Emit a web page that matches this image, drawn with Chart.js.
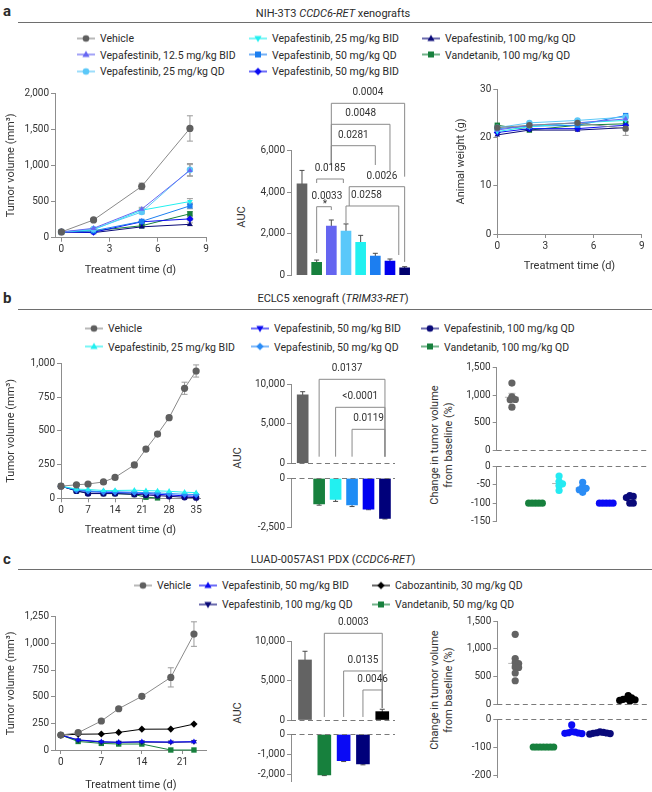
<!DOCTYPE html>
<html><head><meta charset="utf-8">
<script src="https://cdn.jsdelivr.net/npm/chart.js@4.4.1/dist/chart.umd.min.js"></script>
<style>
html,body{margin:0;padding:0}
body{width:652px;height:792px;position:relative;overflow:hidden;background:#fff;font-family:Roboto,"Liberation Sans",sans-serif;color:#2b2b2b}
canvas{position:absolute}
.t{position:absolute;white-space:nowrap}
.plab{font-weight:700;font-size:15px;transform:translateY(-50%)}
.ptitle{font-size:11px;transform:translate(-50%,-50%)}
.rule{position:absolute;height:0;border-top:1.2px solid #6e6e6e}
.leg{position:absolute;display:flex;align-items:center;font-size:10.5px;white-space:nowrap;transform:translateY(-50%)}
.leg canvas{position:static;margin-right:5px}
.rot{position:absolute;font-size:11px;line-height:14px;text-align:center;white-space:nowrap;transform:translate(-50%,-50%) rotate(-90deg);color:#333}
</style></head><body>
<div class="t plab" style="left:3px;top:11px">a</div>
<div class="t ptitle" style="left:333px;top:13px">NIH-3T3 <i>CCDC6-RET</i> xenografts</div>
<div class="rule" style="left:18px;top:22px;width:634px"></div>
<div class="t plab" style="left:3px;top:298px">b</div>
<div class="t ptitle" style="left:333px;top:298px">ECLC5 xenograft (<i>TRIM33-RET</i>)</div>
<div class="rule" style="left:18px;top:309px;width:634px"></div>
<div class="t plab" style="left:3px;top:559px">c</div>
<div class="t ptitle" style="left:333px;top:559px">LUAD-0057AS1 PDX (<i>CCDC6-RET</i>)</div>
<div class="rule" style="left:18px;top:569px;width:634px"></div>
<div class="rot" style="left:242px;top:217px">AUC</div>
<div class="rot" style="left:238px;top:458px">AUC</div>
<div class="rot" style="left:442px;top:445px">Change in tumor volume<br>from baseline (%)</div>
<div class="rot" style="left:238px;top:713px">AUC</div>
<div class="rot" style="left:442px;top:690px">Change in tumor volume<br>from baseline (%)</div>
<script>
// ================= DATA =================
// ---- Panel a: NIH-3T3 CCDC6-RET xenografts ----
const aDays = [0, 2, 5, 8];
const aTimeTicks = [0, 3, 6, 9];
const aVolTicks = [0, 500, 1000, 1500, 2000];
const aVolVehicle = [80, 245, 710, 1510];
const aVolVehicleErr = [8, 20, 45, 175];
const aVolVepa12_5BID = [80, 130, 395, 930];
const aVolVepa12_5BIDErr = [5, 10, 25, 80];
const aVolVepa25QD = [80, 120, 355, 940];
const aVolVepa25QDErr = [5, 10, 25, 85];
const aVolVepa25BID = [80, 110, 380, 500];
const aVolVepa25BIDErr = [5, 10, 20, 40];
const aVolVepa50QD = [80, 95, 225, 440];
const aVolVepa50QDErr = [5, 8, 20, 40];
const aVolVepa50BID = [80, 75, 220, 260];
const aVolVepa50BIDErr = [5, 8, 15, 25];
const aVolVepa100QD = [80, 70, 150, 185];
const aVolVepa100QDErr = [5, 5, 10, 20];
const aVolVand100QD = [80, 95, 165, 330];
const aVolVand100QDErr = [5, 8, 15, 30];

const aAucGroups = ['Vehicle', 'Vandetanib, 100 mg/kg QD', 'Vepafestinib, 12.5 mg/kg BID', 'Vepafestinib, 25 mg/kg QD', 'Vepafestinib, 25 mg/kg BID', 'Vepafestinib, 50 mg/kg QD', 'Vepafestinib, 50 mg/kg BID', 'Vepafestinib, 100 mg/kg QD'];
const aAuc = [4400, 620, 2370, 2130, 1585, 925, 685, 360];
const aAucErr = [650, 110, 290, 340, 335, 130, 95, 50];
const aAucTicks = [0, 2000, 4000, 6000];
const aAucP = ['0.0004', '0.0048', '0.0281', '0.0185', '0.0033', '0.0026', '0.0258'];

const aWtTicks = [0, 10, 20, 30];
const aWtVehicle = [22.0, 22.5, 23.0, 21.8];
const aWtVehicleErr = [0.5, 0.5, 0.6, 1.4];
const aWtVepa12_5BID = [21.5, 22.5, 23.0, 23.8];
const aWtVepa25QD = [22.0, 23.0, 23.5, 24.2];
const aWtVepa25BID = [21.2, 22.2, 23.0, 23.5];
const aWtVepa50QD = [21.8, 22.3, 22.5, 24.5];
const aWtVepa50BID = [21.0, 21.8, 21.8, 22.5];
const aWtVepa100QD = [20.5, 21.5, 21.5, 22.0];
const aWtVand100QD = [22.5, 21.5, 22.5, 22.8];

// ---- Panel b: ECLC5 xenograft (TRIM33-RET) ----
const bDays = [0, 4, 7, 11, 14, 19, 22, 25, 28, 32, 35];
const bTimeTicks = [0, 7, 14, 21, 28, 35];
const bVolTicks = [0, 250, 500, 750, 1000];
const bVolVehicle = [90, 100, 106, 121, 155, 247, 365, 476, 597, 815, 943];
const bVolVehicleErr = [8, 8, 8, 10, 12, 15, 15, 15, 15, 45, 45];
const bVolVepa25BID = [90, 68, 65, 58, 58, 60, 57, 55, 52, 45, 42];
const bVolVepa50QD = [90, 62, 55, 48, 48, 45, 42, 40, 35, 30, 28];
const bVolVepa50BID = [90, 60, 50, 45, 42, 40, 35, 30, 25, 18, 15];
const bVolVepa100QD = [90, 55, 35, 35, 35, 30, 25, 20, 15, 8, 5];
const bVolVand100QD = [90, 55, 38, 35, 35, 28, 8, 3];

const bAucGroups = ['Vehicle', 'Vandetanib, 100 mg/kg QD', 'Vepafestinib, 25 mg/kg BID', 'Vepafestinib, 50 mg/kg QD', 'Vepafestinib, 50 mg/kg BID', 'Vepafestinib, 100 mg/kg QD'];
const bAuc = [8650, -1300, -1070, -1350, -1560, -2030];
const bAucErr = [380, 60, 100, 80, 30, 30];
const bAucTopTicks = [0, 5000, 10000];
const bAucBottomTicks = [0, -2500];
const bAucP = ['0.0137', '<0.0001', '0.0119'];

const bPctTopTicks = [0, 500, 1000, 1500];
const bPctBottomTicks = [0, -50, -100, -150];
const bPctVehicle = [1220, 970, 920, 915, 780];
const bPctVand100QD = [-100, -100, -100, -100, -100];
const bPctVepa25BID = [-27, -42, -48, -53, -66];
const bPctVepa50QD = [-44, -56, -60, -64, -71];
const bPctVepa50BID = [-100, -100, -100, -100, -100];
const bPctVepa100QD = [-80, -82, -85, -100, -100];

// ---- Panel c: LUAD-0057AS1 PDX (CCDC6-RET) ----
const cDays = [0, 3, 7, 10, 14, 19, 23];
const cTimeTicks = [0, 7, 14, 21];
const cVolTicks = [0, 250, 500, 750, 1000, 1250];
const cVolVehicle = [140, 162, 272, 387, 503, 681, 1087];
const cVolVehicleErr = [10, 10, 15, 15, 20, 90, 115];
const cVolVepa50BID = [140, 95, 78, 72, 78, 75, 78];
const cVolVepa50BIDErr = [8, 6, 6, 6, 8, 10, 12];
const cVolVepa100QD = [140, 92, 74, 72, 74, 72, 76];
const cVolCabo30QD = [140, 148, 150, 165, 195, 196, 243];
const cVolVand50QD = [140, 80, 62, 56, 56, 0, 0];

const cAucGroups = ['Vehicle', 'Vandetanib, 50 mg/kg QD', 'Vepafestinib, 50 mg/kg BID', 'Vepafestinib, 100 mg/kg QD', 'Cabozantinib, 30 mg/kg QD'];
const cAuc = [7600, -2000, -1300, -1460, 1060];
const cAucErr = [1100, 30, 40, 40, 300];
const cAucTopTicks = [0, 5000, 10000];
const cAucBottomTicks = [0, -1000, -2000];
const cAucP = ['0.0003', '0.0135', '0.0046'];

const cPctTopTicks = [0, 500, 1000, 1500];
const cPctBottomTicks = [0, -100, -200];
const cPctVehicle = [1260, 820, 750, 730, 670, 660, 560, 420];
const cPctVand50QD = [-100, -100, -100, -100, -100, -100, -100];
const cPctVepa50BID = [-21, -45, -47, -49, -50, -51, -52];
const cPctVepa100QD = [-46, -48, -49, -50, -51, -52, -54];
const cPctCabo30QD = [150, 110, 95, 85, 75, 65, 55];

// ================= STYLE =================
const AX = '#8d8d8d';
const C = {
  vehicle: '#5f5f5f', vehLine: '#8a8a8a', green: '#17803d', peri: '#6767f2', sky: '#5bc8f8',
  cyan: '#22f0f0', azure: '#1c7ff0', dodger: '#2a8cf7', blue: '#0b0bf2', navy: '#0a0a78', black: '#000000'
};
Chart.defaults.font.family = 'Roboto, "Liberation Sans", sans-serif';
Chart.defaults.font.size = 10;
Chart.defaults.color = '#333';

const fmt = v => Number(v).toLocaleString('en-US');
const ticksAt = vals => s => { s.ticks = vals.map(v => ({ value: v })); };
function axis(o) {
  return Object.assign({
    border: { color: AX, width: 1 },
    grid: { drawOnChartArea: false, color: AX, tickLength: 4, tickWidth: 1 },
    ticks: { color: '#333', font: { size: 10 }, padding: 2, callback: fmt, maxRotation: 0, autoSkip: false }
  }, o);
}
const hiddenX = (min, max) => ({ type: 'linear', display: false, offset: false, bounds: 'data', grid: { offset: false }, min, max });
const ttl = text => ({ display: true, text, font: { size: 11 }, color: '#333', padding: 0 });
const shapeMap = { circle: ['circle', 0], rect: ['rect', 0], diamond: ['rectRot', 0], triUp: ['triangle', 0], triDown: ['triangle', 180] };

// ================= PLUGINS =================
Chart.register({
  id: 'errbars',
  beforeDatasetsDraw(chart) {
    const ctx = chart.ctx, ys = chart.scales.y;
    chart.data.datasets.forEach((ds, di) => {
      if (!ds.errors) return;
      const meta = chart.getDatasetMeta(di);
      ctx.save(); ctx.strokeStyle = ds.errColor || '#999'; ctx.lineWidth = 1;
      meta.data.forEach((el, i) => {
        const e = ds.errors[i], p = ds.data[i];
        if (!e || !p || p.y == null) return;
        const y1 = ys.getPixelForValue(p.y + e), y2 = ys.getPixelForValue(p.y - e), x = el.x, cw = ds.cap || 3;
        ctx.beginPath(); ctx.moveTo(x, y1); ctx.lineTo(x, y2);
        ctx.moveTo(x - cw, y1); ctx.lineTo(x + cw, y1); ctx.moveTo(x - cw, y2); ctx.lineTo(x + cw, y2); ctx.stroke();
      });
      ctx.restore();
    });
  }
});
Chart.register({
  id: 'zeroline',
  afterDatasetsDraw(chart, args, opts) {
    if (!opts || !opts.show) return;
    const ctx = chart.ctx, a = chart.chartArea, y = Math.round(chart.scales.y.getPixelForValue(0)) + 0.5;
    ctx.save(); ctx.strokeStyle = '#7a7a7a'; ctx.lineWidth = 1.2; ctx.setLineDash([5, 3.5]);
    ctx.beginPath(); ctx.moveTo(a.left, y); ctx.lineTo(a.right, y); ctx.stroke(); ctx.restore();
  }
});
Chart.register({
  id: 'brackets',
  afterDraw(chart, args, opts) {
    if (!opts || !opts.items) return;
    const ctx = chart.ctx, xs = chart.scales.x, ys = chart.scales.y;
    ctx.save(); ctx.strokeStyle = '#8a8a8a'; ctx.lineWidth = 1; ctx.fillStyle = '#333';
    ctx.font = '10px Roboto, "Liberation Sans", sans-serif'; ctx.textAlign = 'center'; ctx.textBaseline = 'middle';
    opts.items.forEach(b => {
      const x1 = xs.getPixelForValue(b.from), x2 = xs.getPixelForValue(b.to), y = ys.getPixelForValue(b.y);
      const yl = ys.getPixelForValue(b.left), yr = ys.getPixelForValue(b.right);
      ctx.beginPath(); ctx.moveTo(x1, yl); ctx.lineTo(x1, y); ctx.lineTo(x2, y); ctx.lineTo(x2, yr); ctx.stroke();
      ctx.fillText(b.label, (x1 + x2) / 2 + (b.dx || 0), y - 10.5);
      if (b.star) ctx.fillText('*', (x1 + x2) / 2 + 1, y - 2);
    });
    ctx.restore();
  }
});
Chart.register({
  id: 'meansem',
  beforeDatasetsDraw(chart, args, opts) {
    if (!opts || !opts.show) return;
    const ctx = chart.ctx, xs = chart.scales.x, ys = chart.scales.y;
    ctx.save(); ctx.strokeStyle = '#b5b5b5'; ctx.lineWidth = 1;
    chart.data.datasets.forEach(ds => {
      const v = ds.values, n = v.length, m = v.reduce((s, a) => s + a, 0) / n;
      const sd = Math.sqrt(v.reduce((s, a) => s + (a - m) * (a - m), 0) / (n - 1)), se = sd / Math.sqrt(n);
      const x = xs.getPixelForValue(ds.group), ym = ys.getPixelForValue(m), y1 = ys.getPixelForValue(m + se), y2 = ys.getPixelForValue(m - se);
      ctx.beginPath(); ctx.moveTo(x - 7, ym); ctx.lineTo(x + 7, ym);
      ctx.moveTo(x, y1); ctx.lineTo(x, y2); ctx.moveTo(x - 3.5, y1); ctx.lineTo(x + 3.5, y1); ctx.moveTo(x - 3.5, y2); ctx.lineTo(x + 3.5, y2);
      ctx.stroke();
    });
    ctx.restore();
  }
});

// ================= HELPERS =================
function mk(L, type, datasets, xs, ys, pluginOpts) {
  const c = document.createElement('canvas');
  const w = L.r - L.x, h = L.b - L.y;
  c.width = w; c.height = h;
  Object.assign(c.style, { left: L.x + 'px', top: L.y + 'px', width: w + 'px', height: h + 'px' });
  document.body.appendChild(c);
  const A = L.area;
  ys.afterFit = s => { s.width = A.l - L.x; };
  const xHidden = xs.display === false;
  if (!xHidden) xs.afterFit = s => { s.height = L.b - A.b; };
  return new Chart(c, {
    type, data: { datasets },
    options: {
      responsive: false, animation: false, events: [],
      layout: { padding: { top: A.t - L.y, right: L.r - A.r, bottom: xHidden ? L.b - A.b : 0, left: 0 } },
      scales: { x: xs, y: ys },
      plugins: Object.assign({ legend: { display: false }, tooltip: { enabled: false } }, pluginOpts || {})
    }
  });
}
function lineDS(xsArr, ysArr, errs, color, shape, opt) {
  const [ps, rot] = shapeMap[shape];
  return Object.assign({
    data: ysArr.map((y, i) => ({ x: xsArr[i], y })), errors: errs, errColor: '#9a9a9a',
    borderColor: color, backgroundColor: color, pointBackgroundColor: color, pointBorderColor: color,
    pointStyle: ps, pointRotation: rot, pointRadius: shape === 'rect' ? 3.8 : (shape === 'diamond' ? 3.6 : 3.2), pointBorderWidth: 0,
    borderWidth: 1, tension: 0, clip: false
  }, opt || {});
}
function barDS(vals, errs, colors, thick, keep) {
  return { data: vals.map((v, i) => ({ x: i, y: keep(v) ? v : null })), errors: errs, errColor: '#4a4a4a', cap: 2.5,
    backgroundColor: colors, borderWidth: 0, barThickness: thick };
}
function swarm(values, pyu, pxu) {
  const placed = [], out = new Array(values.length);
  const order = values.map((v, i) => i).sort((a, b) => values[b] - values[a]);
  for (const i of order) {
    const y = values[i] * pyu;
    for (let k = 0; k < 60; k++) {
      const dx = (k % 2 ? 1 : -1) * Math.ceil(k / 2) * 1.75;
      if (placed.every(p => Math.hypot(p.x - dx, p.y - y) >= 3.5)) { placed.push({ x: dx, y }); out[i] = dx / pxu; break; }
    }
  }
  return out;
}
function dotDS(group, values, color, pyu, pxu) {
  const off = swarm(values, pyu, pxu);
  return { data: values.map((v, i) => ({ x: group + off[i], y: v })), values, group,
    backgroundColor: color, pointBackgroundColor: color, pointRadius: 3.6, pointBorderWidth: 0, clip: false };
}
function legend(x, y, text, color, shape, lineColor) {
  const d = document.createElement('div'); d.className = 'leg';
  d.style.left = (x - 23) + 'px'; d.style.top = y + 'px';
  const c = document.createElement('canvas'); c.width = 18; c.height = 12; c.style.width = '18px'; c.style.height = '12px';
  const g = c.getContext('2d');
  g.strokeStyle = lineColor || color; g.lineWidth = 1.2; g.beginPath(); g.moveTo(0, 6); g.lineTo(18, 6); g.stroke();
  g.fillStyle = color; g.beginPath();
  const cx = 9, cy = 6, r = 3.3;
  if (shape === 'circle') g.arc(cx, cy, r, 0, Math.PI * 2);
  else if (shape === 'rect') g.rect(cx - 3, cy - 3, 6, 6);
  else if (shape === 'diamond') { g.moveTo(cx, cy - 3.8); g.lineTo(cx + 3.8, cy); g.lineTo(cx, cy + 3.8); g.lineTo(cx - 3.8, cy); g.closePath(); }
  else if (shape === 'triUp') { g.moveTo(cx, cy - 3.8); g.lineTo(cx + 3.6, cy + 2.6); g.lineTo(cx - 3.6, cy + 2.6); g.closePath(); }
  else if (shape === 'triDown') { g.moveTo(cx, cy + 3.8); g.lineTo(cx + 3.6, cy - 2.6); g.lineTo(cx - 3.6, cy - 2.6); g.closePath(); }
  g.fill();
  const s = document.createElement('span'); s.textContent = text;
  d.appendChild(c); d.appendChild(s); document.body.appendChild(d);
}

// ================= LEGENDS =================
legend(100, 38, 'Vehicle', C.vehicle, 'circle', C.vehLine);
legend(100, 54.5, 'Vepafestinib, 12.5 mg/kg BID', C.peri, 'triUp');
legend(100, 71, 'Vepafestinib, 25 mg/kg QD', C.sky, 'circle');
legend(272, 38, 'Vepafestinib, 25 mg/kg BID', C.cyan, 'triDown');
legend(272, 54.5, 'Vepafestinib, 50 mg/kg QD', C.azure, 'rect');
legend(272, 71, 'Vepafestinib, 50 mg/kg BID', C.blue, 'diamond');
legend(445, 38, 'Vepafestinib, 100 mg/kg QD', C.navy, 'triUp');
legend(445, 54.5, 'Vandetanib, 100 mg/kg QD', C.green, 'rect');

legend(108, 328, 'Vehicle', C.vehicle, 'circle', C.vehLine);
legend(108, 346.5, 'Vepafestinib, 25 mg/kg BID', C.cyan, 'triUp');
legend(274, 328, 'Vepafestinib, 50 mg/kg BID', C.blue, 'triDown');
legend(274, 346.5, 'Vepafestinib, 50 mg/kg QD', C.dodger, 'diamond');
legend(444, 328, 'Vepafestinib, 100 mg/kg QD', C.navy, 'circle');
legend(444, 346.5, 'Vandetanib, 100 mg/kg QD', C.green, 'rect');

legend(157, 585, 'Vehicle', C.vehicle, 'circle', C.vehLine);
legend(222, 585, 'Vepafestinib, 50 mg/kg BID', C.blue, 'triUp');
legend(222, 604, 'Vepafestinib, 100 mg/kg QD', C.navy, 'triDown');
legend(395, 585, 'Cabozantinib, 30 mg/kg QD', C.black, 'diamond');
legend(395, 604, 'Vandetanib, 50 mg/kg QD', C.green, 'rect');

// ================= PANEL a =================
mk({ x: 5, y: 83, r: 214, b: 277, area: { l: 55, t: 93, r: 206, b: 237.7 } }, 'line', [
  lineDS(aDays, aVolVand100QD, aVolVand100QDErr, C.green, 'rect'),
  lineDS(aDays, aVolVepa100QD, aVolVepa100QDErr, C.navy, 'triUp'),
  lineDS(aDays, aVolVepa50BID, aVolVepa50BIDErr, C.blue, 'diamond'),
  lineDS(aDays, aVolVepa50QD, aVolVepa50QDErr, C.azure, 'rect'),
  lineDS(aDays, aVolVepa25BID, aVolVepa25BIDErr, C.cyan, 'triDown'),
  lineDS(aDays, aVolVepa25QD, aVolVepa25QDErr, C.sky, 'circle'),
  lineDS(aDays, aVolVepa12_5BID, aVolVepa12_5BIDErr, C.peri, 'triUp'),
  lineDS(aDays, aVolVehicle, aVolVehicleErr, C.vehicle, 'circle', { borderColor: C.vehLine, pointRadius: 3.6 })
].reverse(),
  axis({ type: 'linear', min: -0.4, max: 9, afterBuildTicks: ticksAt(aTimeTicks), title: ttl('Treatment time (d)') }),
  axis({ type: 'linear', min: 0, max: 2000, afterBuildTicks: ticksAt(aVolTicks), title: ttl('Tumor volume (mm³)') }));

mk({ x: 250, y: 78, r: 420, b: 285, area: { l: 291, t: 150.7, r: 413, b: 275.2 } }, 'bar', [
  barDS(aAuc, aAucErr, ['#636363', C.green, '#6565f0', '#5ac8fa', '#20f0f0', '#1c7ef0', '#0000ee', '#00006e'], 10, v => true)
],
  hiddenX(-0.75, 7.57),
  axis({ type: 'linear', min: 0, max: 6000, afterBuildTicks: ticksAt(aAucTicks) }),
  { brackets: { items: [
    { from: 2, to: 7, y: 8284, left: 5300, right: 4747, label: aAucP[0] },
    { from: 2, to: 6, y: 7272, left: 5300, right: 5021, label: aAucP[1] },
    { from: 2, to: 5, y: 6241, left: 5300, right: 5311, label: aAucP[2] },
    { from: 1, to: 2.82, y: 4636, left: 4443, right: 4443, label: aAucP[3] },
    { from: 1, to: 2, y: 3301, left: 1070, right: 3142, label: aAucP[4], star: true, dx: 3 },
    { from: 3.22, to: 7, y: 4265, left: 3335, right: 640, label: aAucP[5], dx: 5 },
    { from: 3, to: 6.6, y: 3335, left: 2515, right: 973, label: aAucP[6], dx: -6 }
  ] } });

mk({ x: 455, y: 80, r: 650, b: 273, area: { l: 497.3, t: 89, r: 641.7, b: 234 } }, 'line', [
  lineDS(aDays, aWtVehicle, aWtVehicleErr, C.vehicle, 'circle', { borderColor: C.vehLine }),
  lineDS(aDays, aWtVepa12_5BID, null, C.peri, 'triUp'),
  lineDS(aDays, aWtVepa25QD, null, C.sky, 'circle'),
  lineDS(aDays, aWtVepa25BID, null, C.cyan, 'triDown'),
  lineDS(aDays, aWtVepa50QD, null, C.azure, 'rect'),
  lineDS(aDays, aWtVepa50BID, null, C.blue, 'diamond'),
  lineDS(aDays, aWtVepa100QD, null, C.navy, 'triUp'),
  lineDS(aDays, aWtVand100QD, null, C.green, 'rect')
],
  axis({ type: 'linear', min: 0, max: 9, afterBuildTicks: ticksAt(aTimeTicks), title: ttl('Treatment time (d)') }),
  axis({ type: 'linear', min: 0, max: 30, afterBuildTicks: ticksAt(aWtTicks), title: ttl('Animal weight (g)') }));

// ================= PANEL b =================
mk({ x: 5, y: 353, r: 210, b: 537, area: { l: 61, t: 363.3, r: 200, b: 498.3 } }, 'line', [
  lineDS(bDays, bVolVehicle, bVolVehicleErr, C.vehicle, 'circle', { borderColor: C.vehLine, pointRadius: 3.6 }),
  lineDS(bDays, bVolVepa25BID, null, C.cyan, 'triUp'),
  lineDS(bDays, bVolVepa50QD, null, C.dodger, 'diamond'),
  lineDS(bDays, bVolVepa50BID, null, C.blue, 'triDown'),
  lineDS(bDays, bVolVepa100QD, null, C.navy, 'circle'),
  lineDS(bDays.slice(0, bVolVand100QD.length), bVolVand100QD, null, C.green, 'rect')
],
  axis({ type: 'linear', min: 0, max: 36, afterBuildTicks: ticksAt(bTimeTicks), title: ttl('Treatment time (d)') }),
  axis({ type: 'linear', min: 0, max: 1000, afterBuildTicks: ticksAt(bVolTicks), title: ttl('Tumor volume (mm³)') }));

const bBarColors = ['#636363', C.green, '#22f0f0', '#1e8cf5', '#0000f0', '#00007a'];
mk({ x: 250, y: 360, r: 400, b: 472, area: { l: 291, t: 384, r: 395, b: 463.3 } }, 'bar', [
  barDS(bAuc, bAucErr, bBarColors, 11, v => v > 0)
],
  hiddenX(-0.71, 5.61),
  axis({ type: 'linear', min: 0, max: 10000, afterBuildTicks: ticksAt(bAucTopTicks) }),
  { zeroline: { show: true }, brackets: { items: [
    { from: 1, to: 5, y: 10592, left: 832, right: 832, label: bAucP[0], dx: -5 },
    { from: 2, to: 5, y: 7062, left: 832, right: 832, label: bAucP[1] },
    { from: 3, to: 5, y: 4287, left: 832, right: 832, label: bAucP[2] }
  ] } });
mk({ x: 250, y: 470, r: 400, b: 540, area: { l: 291, t: 478.3, r: 395, b: 527.7 } }, 'bar', [
  barDS(bAuc, bAucErr, bBarColors, 11, v => v < 0)
],
  hiddenX(-0.71, 5.61),
  axis({ type: 'linear', min: -2500, max: 0, afterBuildTicks: ticksAt(bAucBottomTicks) }),
  { zeroline: { show: true } });

mk({ x: 455, y: 358, r: 652, b: 458, area: { l: 496.7, t: 367.7, r: 652, b: 450.7 } }, 'scatter', [
  dotDS(0, bPctVehicle, '#636363', 83 / 1500, 24.2)
],
  hiddenX(-0.645, 5.77),
  axis({ type: 'linear', min: 0, max: 1500, afterBuildTicks: ticksAt(bPctTopTicks) }),
  { zeroline: { show: true }, meansem: { show: true } });
mk({ x: 455, y: 458, r: 652, b: 530, area: { l: 496.7, t: 466, r: 652, b: 521.7 } }, 'scatter', [
  dotDS(1, bPctVand100QD, C.green, 55.7 / 150, 24.2),
  dotDS(2, bPctVepa25BID, '#25eaf2', 55.7 / 150, 24.2),
  dotDS(3, bPctVepa50QD, '#2a8cf5', 55.7 / 150, 24.2),
  dotDS(4, bPctVepa50BID, '#0a0af5', 55.7 / 150, 24.2),
  dotDS(5, bPctVepa100QD, '#0a0a7a', 55.7 / 150, 24.2)
],
  hiddenX(-0.645, 5.77),
  axis({ type: 'linear', min: -150, max: 0, afterBuildTicks: ticksAt(bPctBottomTicks) }),
  { zeroline: { show: true }, meansem: { show: true } });

// ================= PANEL c =================
mk({ x: 5, y: 606, r: 214, b: 792, area: { l: 55, t: 616.7, r: 206.7, b: 750 } }, 'line', [
  lineDS(cDays, cVolVehicle, cVolVehicleErr, C.vehicle, 'circle', { borderColor: C.vehLine, pointRadius: 3.6 }),
  lineDS(cDays, cVolCabo30QD, null, C.black, 'diamond'),
  lineDS(cDays, cVolVepa50BID, cVolVepa50BIDErr, C.blue, 'triUp'),
  lineDS(cDays, cVolVepa100QD, null, C.navy, 'triDown'),
  lineDS(cDays, cVolVand50QD, null, C.green, 'rect')
],
  axis({ type: 'linear', min: -1, max: 25.2, afterBuildTicks: ticksAt(cTimeTicks), title: ttl('Treatment time (d)') }),
  axis({ type: 'linear', min: 0, max: 1250, afterBuildTicks: ticksAt(cVolTicks), title: ttl('Tumor volume (mm³)') }));

const cBarColors = ['#636363', C.green, '#0a0af5', '#00007a', '#000000'];
mk({ x: 250, y: 612, r: 400, b: 728, area: { l: 291, t: 641, r: 395, b: 720 } }, 'bar', [
  barDS(cAuc, cAucErr, cBarColors, 13, v => v > 0)
],
  hiddenX(-0.725, 4.66),
  axis({ type: 'linear', min: 0, max: 10000, afterBuildTicks: ticksAt(cAucTopTicks) }),
  { zeroline: { show: true }, brackets: { items: [
    { from: 1, to: 4, y: 10976, left: 380, right: 1520, label: cAucP[0] },
    { from: 2, to: 4, y: 6203, left: 380, right: 1520, label: cAucP[1] },
    { from: 3, to: 4, y: 3798, left: 380, right: 1520, label: cAucP[2] }
  ] } });
mk({ x: 250, y: 726, r: 400, b: 790, area: { l: 291, t: 734.3, r: 395, b: 781.7 } }, 'bar', [
  barDS(cAuc, cAucErr, cBarColors, 13, v => v < 0)
],
  hiddenX(-0.725, 4.66),
  axis({ type: 'linear', min: -2330, max: 0, afterBuildTicks: ticksAt(cAucBottomTicks) }),
  { zeroline: { show: true } });

mk({ x: 455, y: 612, r: 652, b: 712, area: { l: 497.3, t: 621, r: 652, b: 704 } }, 'scatter', [
  dotDS(0, cPctVehicle, '#636363', 83 / 1500, 29),
  dotDS(4, cPctCabo30QD, '#000000', 83 / 1500, 29)
],
  hiddenX(-0.634, 4.70),
  axis({ type: 'linear', min: 0, max: 1500, afterBuildTicks: ticksAt(cPctTopTicks) }),
  { zeroline: { show: true }, meansem: { show: true } });
mk({ x: 455, y: 710, r: 652, b: 785, area: { l: 497.3, t: 719, r: 652, b: 777 } }, 'scatter', [
  dotDS(1, cPctVand50QD, C.green, 56 / 200, 29),
  dotDS(2, cPctVepa50BID, '#0a0af5', 56 / 200, 29),
  dotDS(3, cPctVepa100QD, '#0a0a7a', 56 / 200, 29)
],
  hiddenX(-0.634, 4.70),
  axis({ type: 'linear', min: -207, max: 0, afterBuildTicks: ticksAt(cPctBottomTicks) }),
  { zeroline: { show: true }, meansem: { show: true } });
</script>
</body></html>
